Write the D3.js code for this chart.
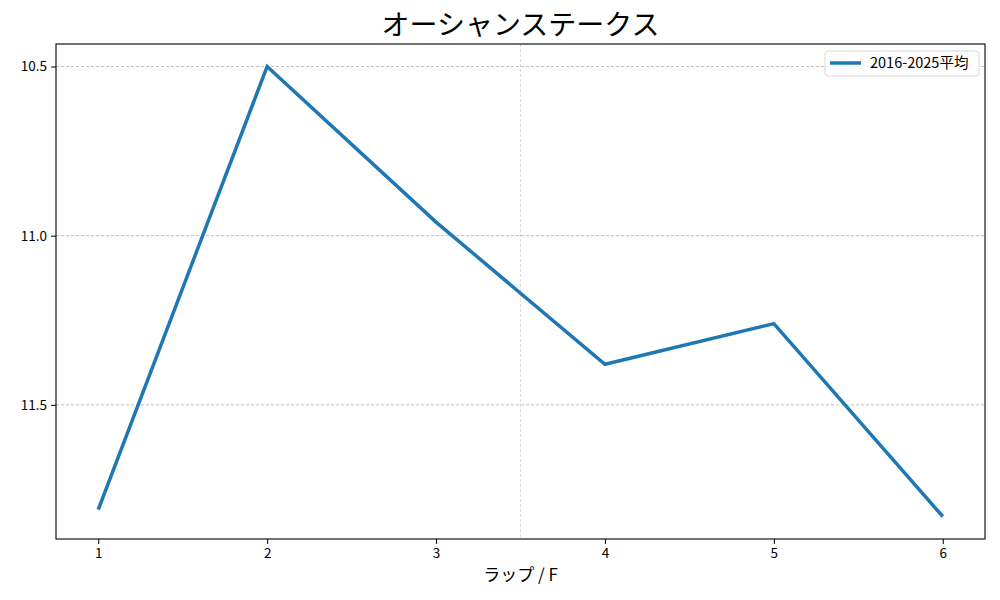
<!DOCTYPE html>
<html><head><meta charset="utf-8">
<script src="https://cdn.jsdelivr.net/npm/d3@7"></script>
<style>body{margin:0;background:#fff;} text{font-family:"Noto Sans CJK JP","DejaVu Sans",sans-serif;}</style>
</head><body>
<svg id="c" width="1000" height="600"></svg>
<script>
const laps = [1, 2, 3, 4, 5, 6];
const avg = [11.81, 10.50, 10.96, 11.38, 11.26, 11.83];
const yTicks = [10.5, 11.0, 11.5];
const xTicks = [1, 2, 3, 4, 5, 6];
const xGrid = [3.5];
const seriesName = "2016-2025平均";
const title = "オーシャンステークス";
const xLabel = "ラップ / F";

const svg = d3.select("#c");
const L = 56, R = 985, T = 44, B = 539;
const x = d3.scaleLinear().domain([0.75, 6.25]).range([L, R]);
const yMin = d3.min(avg), yMax = d3.max(avg), pad = (yMax - yMin) * 0.05;
const y = d3.scaleLinear().domain([yMin - pad, yMax + pad]).range([T, B]);

// grid
svg.append("g").selectAll("line").data(yTicks).join("line")
  .attr("x1", L).attr("x2", R).attr("y1", d => y(d)).attr("y2", d => y(d))
  .attr("stroke", "#b0b0b0").attr("stroke-width", 0.8).attr("stroke-dasharray", "3,2");
svg.append("g").selectAll("line").data(xGrid).join("line")
  .attr("y1", T).attr("y2", B).attr("x1", d => x(d)).attr("x2", d => x(d))
  .attr("stroke", "#d0d0d0").attr("stroke-width", 0.8).attr("stroke-dasharray", "3,2");

// axes
const xa = svg.append("g").attr("transform", `translate(0,${B})`)
  .call(d3.axisBottom(x).tickValues(xTicks).tickFormat(d3.format("d")).tickSize(5).tickPadding(4));
const ya = svg.append("g").attr("transform", `translate(${L},0)`)
  .call(d3.axisLeft(y).tickValues(yTicks).tickFormat(d3.format(".1f")).tickSize(5).tickPadding(4));
[xa, ya].forEach(a => {
  a.select(".domain").remove();
  a.selectAll("text").attr("font-size", 13.5).attr("fill", "#000").style("font-family", '"Noto Sans CJK JP",sans-serif');
  a.selectAll("line").attr("stroke", "#000").attr("stroke-width", 1);
});
svg.append("rect").attr("x", L).attr("y", T).attr("width", R - L).attr("height", B - T)
  .attr("fill", "none").attr("stroke", "#000").attr("stroke-width", 1.1);

// line
svg.append("path").datum(laps.map((l, i) => [l, avg[i]]))
  .attr("d", d3.line().x(d => x(d[0])).y(d => y(d[1])))
  .attr("fill", "none").attr("stroke", "#1f77b4").attr("stroke-width", 3.5)
  .attr("stroke-linejoin", "miter");

// title & labels
svg.append("text").attr("x", (L + R) / 2).attr("y", 35).attr("text-anchor", "middle")
  .attr("font-size", 28).attr("fill", "#000").text(title);
svg.append("text").attr("x", (L + R) / 2).attr("y", 581).attr("text-anchor", "middle")
  .attr("font-size", 17).attr("fill", "#000").text(xLabel);

// legend
const lg = svg.append("g");
lg.append("rect").attr("x", 825).attr("y", 51).attr("width", 154).attr("height", 25).attr("rx", 3)
  .attr("fill", "#fff").attr("fill-opacity", 0.8).attr("stroke", "#d6d6d6").attr("stroke-width", 1);
lg.append("line").attr("x1", 830).attr("x2", 861).attr("y1", 63).attr("y2", 63)
  .attr("stroke", "#1f77b4").attr("stroke-width", 3.5);
lg.append("text").attr("x", 870).attr("y", 68).attr("font-size", 14.5).attr("fill", "#000").text(seriesName);
</script>
</body></html>
